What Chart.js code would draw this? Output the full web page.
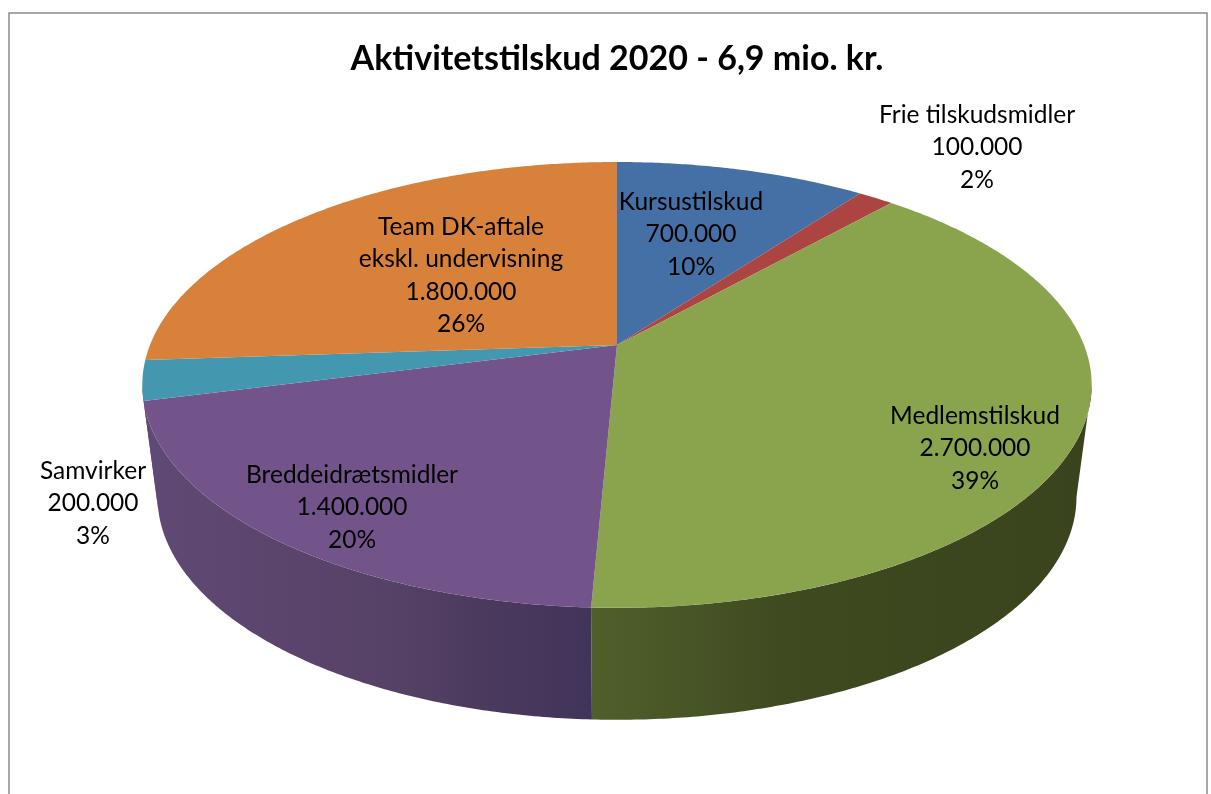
<!DOCTYPE html>
<html>
<head>
<meta charset="utf-8">
<title>Aktivitetstilskud 2020</title>
<script src="https://cdn.jsdelivr.net/npm/chart.js@4"></script>
<style>
  html, body { margin: 0; padding: 0; background: #fff; }
  #wrap { width: 1211px; height: 794px; }
</style>
</head>
<body>
<div id="wrap"><canvas id="grafico" width="1211" height="794"></canvas></div>
<script>
const titulo = 'Aktivitetstilskud 2020 - 6,9 mio. kr.';
const categorias = ['Kursustilskud', 'Frie tilskudsmidler', 'Medlemstilskud', 'Breddeidrætsmidler', 'Samvirker', 'Team DK-aftale|ekskl. undervisning'];
const valores = [700000, 100000, 2700000, 1400000, 200000, 1800000];
const procenter = ['10%', '2%', '39%', '20%', '3%', '26%'];
const colores = ['#4570a5', '#ac4442', '#8aa34d', '#72548a', '#4397ae', '#d7813a'];

// label centre (first line) for each slice
const posLabels = [[691, 202], [977, 115], [975, 416], [352, 475], [93, 471], [461, 227]];
const altoLinea = 32.3;
const fuente = '24.5px Lato';

// tilt of the pie: squash and perspective
const squash = 0.462, persp = 0.179;
// lower rim of the wall
const baseEscala = 0.968, baseY = 112;

// wall shades along x
const paredes = {
  2: [[592, '#4f5f2a'], [700, '#475426'], [780, '#3f4a20'], [1092, '#39431d']],
  3: [[150, '#604974'], [400, '#564166'], [480, '#4b3a5e'], [592, '#41345a']],
  4: [[140, '#604974'], [170, '#604974']]
};

const pie3d = {
  id: 'pie3d',
  beforeDraw(chart) {
    const c = chart.ctx;
    c.save();
    c.fillStyle = '#fff';
    c.fillRect(0, 0, chart.width, chart.height);
    c.strokeStyle = '#8c8c8c';
    c.lineWidth = 1.5;
    c.strokeRect(9, 13, 1198, 900);
    c.restore();
  },
  beforeDatasetDraw(chart, args) {
    const c = chart.ctx;
    const arcos = chart.getDatasetMeta(args.index).data;
    const cx = arcos[0].x, cy = arcos[0].y, R = arcos[0].outerRadius;

    const arriba = a => {
      const w = 1 - persp * Math.sin(a);
      return [cx + R * Math.cos(a) / w, cy + R * squash * Math.sin(a) / w];
    };
    const abajo = a => {
      const w = 1 - persp * Math.sin(a);
      return [cx + baseEscala * R * Math.cos(a) / w, cy + baseY + R * squash * Math.sin(a) / w];
    };
    const paso = Math.PI / 360;
    const desde = Math.asin(persp), hasta = Math.PI - desde;

    // walls first
    arcos.forEach((arc, i) => {
      if (!paredes[i]) return;
      const a0 = Math.max(arc.startAngle, desde), a1 = Math.min(arc.endAngle, hasta);
      if (a1 <= a0) return;
      const g = c.createLinearGradient(140, 0, 1092, 0);
      paredes[i].forEach(s => g.addColorStop(Math.min(1, Math.max(0, (s[0] - 140) / 952)), s[1]));
      c.beginPath();
      for (let a = a0; a < a1; a += paso) c.lineTo(...arriba(a));
      c.lineTo(...arriba(a1));
      for (let a = a1; a > a0; a -= paso) c.lineTo(...abajo(a));
      c.lineTo(...abajo(a0));
      c.closePath();
      c.fillStyle = g;
      c.fill();
    });

    // then the top faces
    arcos.forEach((arc, i) => {
      c.beginPath();
      c.moveTo(cx, cy);
      for (let a = arc.startAngle; a < arc.endAngle; a += paso) c.lineTo(...arriba(a));
      c.lineTo(...arriba(arc.endAngle));
      c.closePath();
      c.fillStyle = colores[i];
      c.fill();
    });
    return false;
  },
  afterDatasetsDraw(chart) {
    const c = chart.ctx;
    c.save();
    c.fillStyle = '#000';
    c.font = fuente;
    c.textAlign = 'center';
    c.textBaseline = 'middle';
    categorias.forEach((nombre, i) => {
      const lineas = nombre.split('|');
      lineas.push(valores[i].toLocaleString('da-DK'), procenter[i]);
      lineas.forEach((t, j) => c.fillText(t, posLabels[i][0], posLabels[i][1] + j * altoLinea));
    });
    c.restore();
  }
};

new Chart(document.getElementById('grafico'), {
  type: 'pie',
  data: {
    labels: categorias.map(n => n.replace('|', ' ')),
    datasets: [{
      data: valores,
      backgroundColor: colores,
      borderWidth: 0,
      radius: 467
    }]
  },
  options: {
    responsive: false,
    animation: false,
    layout: { padding: { left: 23, bottom: 193.4 } },
    events: [],
    plugins: {
      legend: { display: false },
      tooltip: { enabled: false },
      title: {
        display: true,
        text: titulo,
        color: '#000',
        font: { family: 'Lato', size: 34, weight: 'bold', lineHeight: 1.2 },
        padding: { top: 38.6, bottom: 10 }
      }
    }
  },
  plugins: [pie3d]
});
</script>
</body>
</html>
